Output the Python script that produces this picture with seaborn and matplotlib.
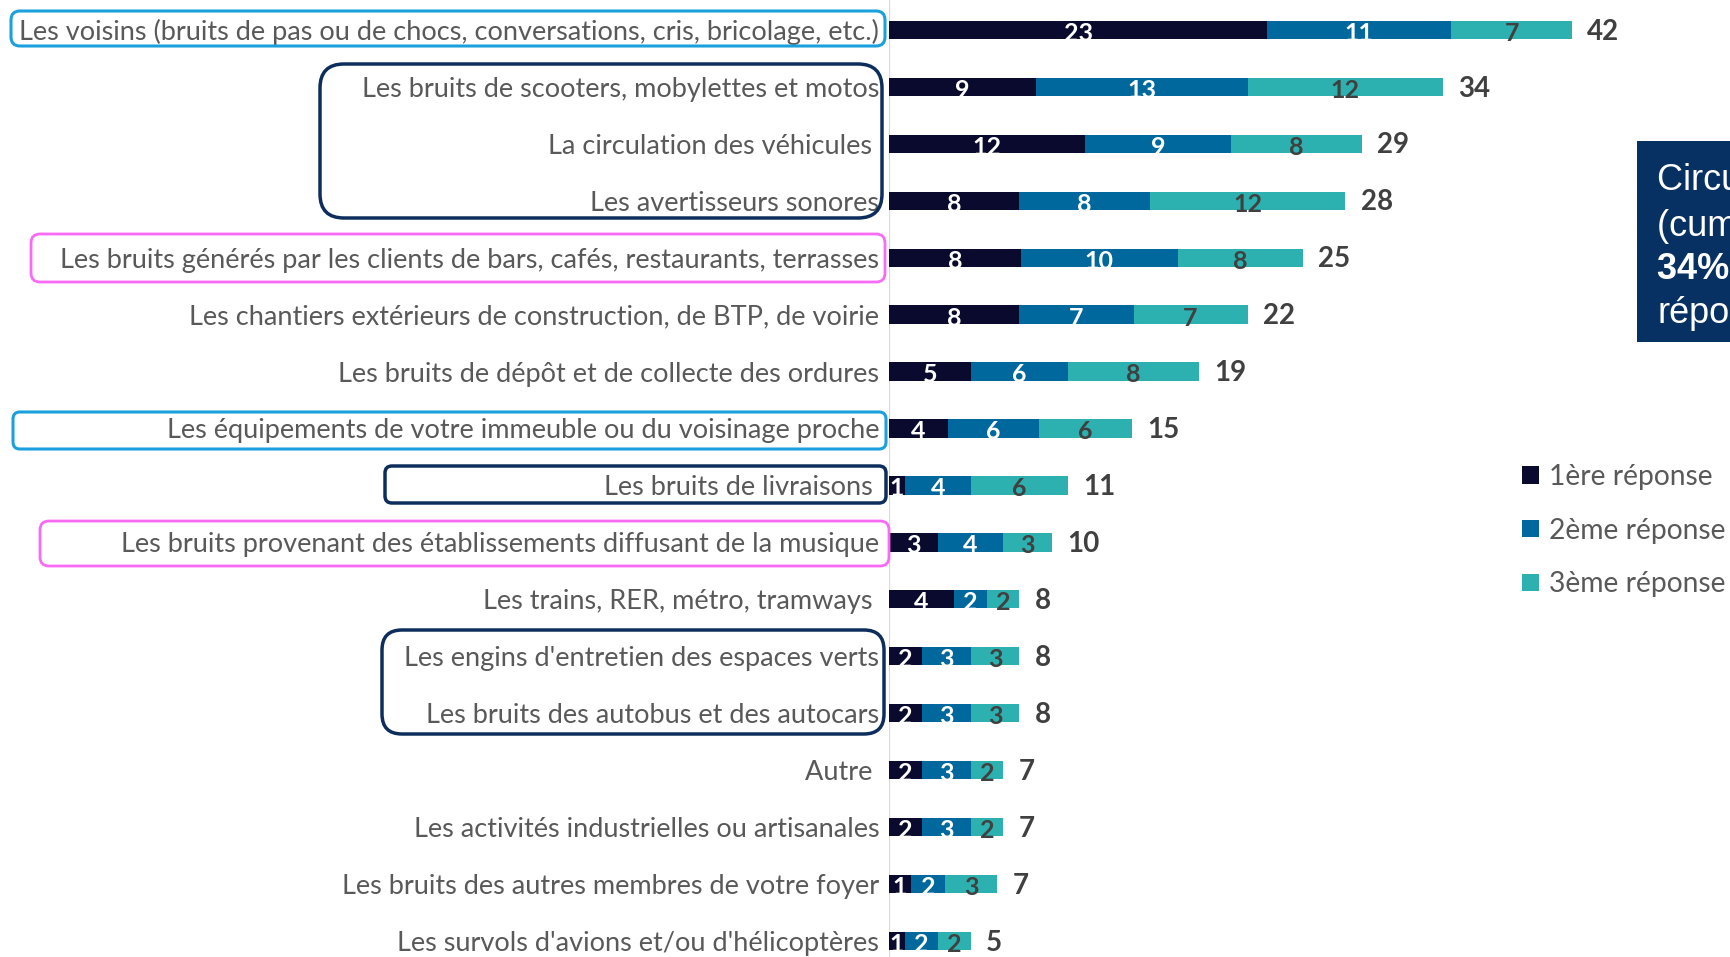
import matplotlib
matplotlib.use("Agg")
import matplotlib.pyplot as plt
from matplotlib.patches import FancyBboxPatch, Patch, Rectangle
from matplotlib.transforms import IdentityTransform
import numpy as np
import pandas as pd
import seaborn as sns

categories = [
    "Les voisins (bruits de pas ou de chocs, conversations, cris, bricolage, etc.)",
    "Les bruits de scooters, mobylettes et motos",
    "La circulation des véhicules ",
    "Les avertisseurs sonores",
    "Les bruits générés par les clients de bars, cafés, restaurants, terrasses",
    "Les chantiers extérieurs de construction, de BTP, de voirie",
    "Les bruits de dépôt et de collecte des ordures",
    "Les équipements de votre immeuble ou du voisinage proche",
    "Les bruits de livraisons ",
    "Les bruits provenant des établissements diffusant de la musique",
    "Les trains, RER, métro, tramways ",
    "Les engins d'entretien des espaces verts",
    "Les bruits des autobus et des autocars",
    "Autre ",
    "Les activités industrielles ou artisanales",
    "Les bruits des autres membres de votre foyer",
    "Les survols d'avions et/ou d'hélicoptères",
]
# shares in % (labels are the rounded values)
first = [23.2, 9, 12, 8, 8.1, 8, 5, 3.6, 1, 3, 4, 2, 2, 2, 2, 1.35, 1]
second = [11.3, 13, 9, 8, 9.6, 7, 6, 5.6, 4, 4, 2, 3, 3, 3, 3, 2.1, 2]
third = [7.4, 12, 8, 12, 7.7, 7, 8, 5.7, 6, 3, 2, 3, 3, 2, 2, 3.2, 2]
totals = [42, 34, 29, 28, 25, 22, 19, 15, 11, 10, 8, 8, 8, 7, 7, 7, 5]
series_names = ["1ère réponse", "2ème réponse", "3ème réponse"]

colors = ["#0A0A2E", "#00689C", "#2DB1B0"]
label_font = ["Lato", "DejaVu Sans"]

W, H = 1730, 957


def px_box(fig, x0, y0, x1, y1, color, lw, r):
    # pixel coords measured from the top-left of the picture
    box = FancyBboxPatch((x0, H - y1), x1 - x0, y1 - y0,
                         boxstyle=f"round,pad=0,rounding_size={r}",
                         transform=IdentityTransform(), fill=False,
                         edgecolor=color, linewidth=lw, zorder=10)
    fig.add_artist(box)


def main():
    sns.set_theme(style="white")
    plt.rcParams["font.family"] = label_font

    df = pd.DataFrame({"cat": categories, "first": first,
                       "second": second, "third": third})
    df["cum2"] = df["first"] + df["second"]
    df["cum3"] = df["cum2"] + df["third"]

    fig = plt.figure(figsize=(W / 100, H / 100), dpi=100)
    ax = fig.add_axes([889 / W, 0, (W - 889) / W, 1])
    ax.set_facecolor("none")

    # stacked bars: draw cumulative totals back to front
    for col, c in zip(["cum3", "cum2", "first"], colors[::-1]):
        sns.barplot(data=df, x=col, y="cat", color=c, width=0.32, saturation=1,
                    errorbar=None, linewidth=0, orient="h", ax=ax)

    ax.set_xlim(0, (W - 889) / 16.3)
    ax.set_ylim(16.28, -0.524)
    ax.set_xlabel("")
    ax.set_ylabel("")
    ax.set_xticks([])
    sns.despine(ax=ax, left=True, bottom=True)
    ax.axvline(0, color="#D9D9D9", lw=1.6, zorder=0)
    ax.tick_params(axis="y", length=0, pad=7, labelsize=19.5, labelcolor="#595959")

    for i in range(len(categories)):
        f, s, t = first[i], second[i], third[i]
        ax.text(f / 2, i + 0.06, f"{f:.0f}", ha="center", va="center", color="white",
                fontsize=18, fontweight="bold")
        ax.text(f + s / 2, i + 0.06, f"{s:.0f}", ha="center", va="center", color="white",
                fontsize=18, fontweight="bold")
        ax.text(f + s + t / 2, i + 0.06, f"{t:.0f}", ha="center", va="center",
                color="#404040", fontsize=18, fontweight="bold")
        ax.annotate(str(totals[i]), (f + s + t, i + 0.03), xytext=(11, 0),
                    textcoords="offset points", ha="left", va="center",
                    color="#404040", fontsize=20, fontweight="bold")

    handles = [Patch(facecolor=c, edgecolor="none") for c in colors]
    fig.legend(handles, series_names, loc="center left",
               bbox_to_anchor=(1522 / W, 1 - 530.5 / H), frameon=False,
               fontsize=20.3, labelcolor="#595959", handlelength=0.59,
               handleheight=0.59, handletextpad=0.36, labelspacing=0.99,
               borderpad=0, borderaxespad=0)

    # highlight frames around groups of labels
    px_box(fig, 11, 11, 885, 46, "#1AA0DC", 2.2, 9)
    px_box(fig, 320, 64, 882, 218, "#0D2E5C", 2.5, 24)
    px_box(fig, 31, 234, 885, 282, "#FA6BF5", 2.0, 9)
    px_box(fig, 13, 412, 886, 449, "#1AA0DC", 2.2, 7)
    px_box(fig, 385, 466, 886, 503, "#0D2E5C", 2.5, 7)
    px_box(fig, 40, 521, 889, 566, "#FA6BF5", 2.0, 9)
    px_box(fig, 382, 630, 884, 734, "#0D2E5C", 2.5, 20)

    # callout box cut by the right edge, as in the source
    fig.add_artist(Rectangle((1637, H - 342), 120, 201, transform=IdentityTransform(),
                             facecolor="#073163", edgecolor="none", zorder=5))
    box_lines = [("Circulation routière", "normal", 190),
                 ("(cumulé) :", "normal", 236),
                 ("34% des", "bold", 279),
                 ("réponses", "normal", 323)]
    for txt, weight, yb in box_lines:
        fig.text(1657, H - yb, txt, transform=IdentityTransform(), color="white",
                 fontsize=26, fontweight=weight, va="baseline", ha="left",
                 family=["Liberation Sans", "DejaVu Sans"], zorder=6)

    fig.savefig("out.png", dpi=100)
    plt.close(fig)


if __name__ == "__main__":
    main()
